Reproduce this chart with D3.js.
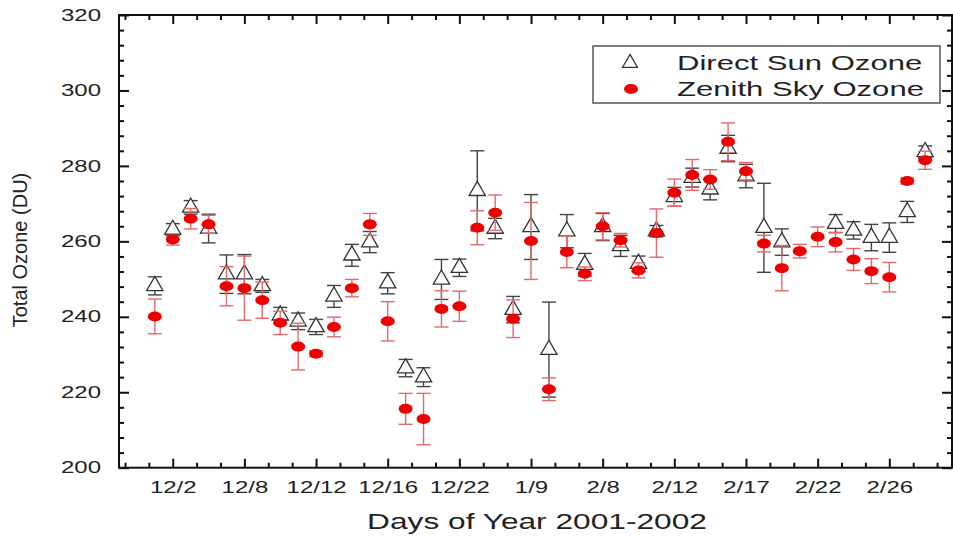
<!DOCTYPE html>
<html>
<head>
<meta charset="utf-8">
<title>Total Ozone</title>
<script src="https://cdn.jsdelivr.net/npm/d3@7"></script>
<style>
    body { margin: 0; background: #fff; }
    svg { display: block; font-family: "Liberation Sans", Arial, sans-serif; }
    .axis .domain { display: none; }
    .axis line { stroke: #111; stroke-width: 2; }
    .axis text { font-size: 16px; fill: #222; }
</style>
</head>
<body>
<svg id="chart" width="953" height="537"></svg>
<script>
//day labels on the x axis and the point index each one sits under
const tickLabels = ["12/2", "12/8", "12/12", "12/16", "12/22", "1/9", "2/8", "2/12", "2/17", "2/22", "2/26"];
const tickIndex = [1, 5, 9, 13, 17, 21, 25, 29, 33, 37, 41];
const yTicks = [200, 220, 240, 260, 280, 300, 320];

//direct sun ozone (DU) and error bar half width, null = no reading that day
const directSun = [248.2, 263.1, 269.0, 263.4, 251.3, 251.3, 248.2, 240.4, 238.8, 237.3, 245.4, 256.3, 259.8, 248.9, 226.4, 224.0, 249.9, 253.0, 273.4, 263.4, 241.9, 263.8, 231.3, 262.7, 253.8, 263.8, 258.8, 254.1, 262.7, 271.8, 276.9, 273.8, 284.6, 277.3, 263.6, 259.8, null, null, 264.7, 262.9, 261.0, 261.0, 267.8, 283.7];
const directErr = [2.4, 1.6, 1.8, 3.8, 5.1, 5.2, 1.7, 2.1, 2.2, 2.0, 2.9, 2.9, 2.8, 2.8, 2.3, 2.5, 5.3, 2.3, 10.6, 2.7, 3.5, 8.6, 12.6, 4.4, 3.0, 3.6, 2.8, 2.0, 1.5, 2.5, 2.5, 2.8, 3.5, 3.1, 11.8, 3.5, null, null, 2.4, 2.3, 3.5, 3.9, 2.8, 1.6];

//zenith sky ozone (DU) and error bar half width
const zenithSky = [240.1, 260.5, 266.0, 264.5, 248.1, 247.6, 244.4, 238.4, 232.1, 230.2, 237.3, 247.6, 264.5, 238.8, 215.6, 212.9, 242.1, 242.8, 263.6, 267.6, 239.5, 260.1, 220.8, 257.2, 251.4, 264.0, 260.3, 252.3, 262.2, 272.9, 277.6, 276.4, 286.4, 278.6, 259.4, 252.9, 257.4, 261.2, 259.8, 255.2, 252.1, 250.5, 276.0, 281.5];
const zenithErr = [4.6, 1.5, 2.7, 2.4, 5.2, 8.5, 4.8, 3.1, 6.2, 0.8, 2.6, 2.3, 2.9, 5.2, 4.1, 6.8, 4.8, 4.0, 4.5, 4.7, 5.0, 10.2, 3.0, 4.2, 1.8, 3.6, 1.8, 2.0, 6.4, 3.6, 4.1, 2.6, 5.0, 2.3, 2.2, 6.0, 1.8, 2.6, 2.6, 2.9, 3.3, 3.9, 0.8, 2.4];

(function(){

    var svg = d3.select("#chart");
    //plot frame
    var left = 119, right = 952, top = 15, bottom = 467.7;

    var x = d3.scaleLinear().domain([-2, 44.5]).range([left, right]);
    var y = d3.scaleLinear().domain([200, 320]).range([bottom, top]);

    //the picture is stretched sideways, so is the text
    var stretch = 1.5;

    function drawAxes(){
        //minor ticks: every 4/3 of a day on x, every 4 DU on y
        let xMinor = d3.range(-5/3, 44.5, 4/3).filter(function(d){
            return tickIndex.indexOf(Math.round(d)) < 0 || Math.abs(d - Math.round(d)) > 0.01;
        });
        let yMinor = d3.range(204, 320, 4).filter(function(d){ return d % 20 != 0; });

        let bot = svg.append("g").attr("class", "axis")
            .attr("transform", "translate(0," + bottom + ")")
            .call(d3.axisBottom(x).tickValues(tickIndex)
                .tickFormat(function(d, i){ return tickLabels[i]; })
                .tickSizeInner(-9).tickSizeOuter(0).tickPadding(14));
        bot.selectAll("text").attr("transform", "scale(" + stretch + ",1)");
        svg.append("g").attr("class", "axis")
            .attr("transform", "translate(0," + bottom + ")")
            .call(d3.axisBottom(x).tickValues(xMinor).tickFormat("").tickSizeInner(-5).tickSizeOuter(0));

        //top mirror
        svg.append("g").attr("class", "axis")
            .attr("transform", "translate(0," + top + ")")
            .call(d3.axisTop(x).tickValues(tickIndex).tickFormat("").tickSizeInner(-9).tickSizeOuter(0));
        svg.append("g").attr("class", "axis")
            .attr("transform", "translate(0," + top + ")")
            .call(d3.axisTop(x).tickValues(xMinor).tickFormat("").tickSizeInner(-5).tickSizeOuter(0));

        let lft = svg.append("g").attr("class", "axis")
            .attr("transform", "translate(" + left + ",0)")
            .call(d3.axisLeft(y).tickValues(yTicks).tickSizeInner(-10).tickSizeOuter(0).tickPadding(12));
        lft.selectAll("text").attr("transform", "scale(" + stretch + ",1)");
        svg.append("g").attr("class", "axis")
            .attr("transform", "translate(" + left + ",0)")
            .call(d3.axisLeft(y).tickValues(yMinor).tickFormat("").tickSizeInner(-5).tickSizeOuter(0));

        //right mirror
        svg.append("g").attr("class", "axis")
            .attr("transform", "translate(" + right + ",0)")
            .call(d3.axisRight(y).tickValues(yTicks).tickFormat("").tickSizeInner(-10).tickSizeOuter(0));
        svg.append("g").attr("class", "axis")
            .attr("transform", "translate(" + right + ",0)")
            .call(d3.axisRight(y).tickValues(yMinor).tickFormat("").tickSizeInner(-5).tickSizeOuter(0));

        //frame
        svg.append("rect")
            .attr("x", left).attr("y", top)
            .attr("width", right - left).attr("height", bottom - top)
            .attr("fill", "none").attr("stroke", "#111").attr("stroke-width", 2);

        //axis titles
        svg.append("text")
            .attr("transform", "translate(537,529) scale(1.44,1)")
            .attr("text-anchor", "middle")
            .style("font-size", "22px").style("fill", "#222")
            .text("Days of Year 2001-2002");
        svg.append("text")
            .attr("transform", "translate(27,250) rotate(-90)")
            .attr("text-anchor", "middle")
            .style("font-size", "20px").style("fill", "#222")
            .text("Total Ozone (DU)");
    }

    //error bars with caps for one series
    function errorBars(vals, errs, color){
        let pts = vals.map(function(v, i){ return {i: i, v: v, e: errs[i]}; })
            .filter(function(d){ return d.v != null; });
        let g = svg.append("g")
            .attr("stroke", color).attr("stroke-width", 1.4).attr("fill", "none");
        pts.forEach(function(d){
            let cx = x(d.i), hi = y(d.v + d.e), lo = y(d.v - d.e);
            g.append("line").attr("x1", cx).attr("x2", cx).attr("y1", hi).attr("y2", lo);
            g.append("line").attr("x1", cx - 7).attr("x2", cx + 7).attr("y1", hi).attr("y2", hi);
            g.append("line").attr("x1", cx - 7).attr("x2", cx + 7).attr("y1", lo).attr("y2", lo);
        });
        return pts;
    }

    function drawPoints(){
        let tri = d3.symbol().type(d3.symbolTriangle).size(115);

        let dPts = errorBars(directSun, directErr, "#444");
        svg.append("g").selectAll("path")
            .data(dPts)
            .join("path")
            .attr("d", tri)
            .attr("transform", function(d){ return "translate(" + x(d.i) + "," + y(d.v) + ")"; })
            .attr("fill", "#fff").attr("stroke", "#333").attr("stroke-width", 1.3);

        let zPts = errorBars(zenithSky, zenithErr, "#e46a6a");
        svg.append("g").selectAll("ellipse")
            .data(zPts)
            .join("ellipse")
            .attr("cx", function(d){ return x(d.i); })
            .attr("cy", function(d){ return y(d.v); })
            .attr("rx", 7).attr("ry", 5)
            .attr("fill", "#ee0000");
    }

    function drawLegend(){
        let lg = svg.append("g");
        lg.append("rect")
            .attr("x", 593).attr("y", 46).attr("width", 347).attr("height", 57)
            .attr("fill", "#fff").attr("stroke", "#555").attr("stroke-width", 1.5);
        lg.append("path")
            .attr("d", d3.symbol().type(d3.symbolTriangle).size(95))
            .attr("transform", "translate(630,63)")
            .attr("fill", "#fff").attr("stroke", "#333").attr("stroke-width", 1.3);
        lg.append("ellipse")
            .attr("cx", 631).attr("cy", 89).attr("rx", 7).attr("ry", 5)
            .attr("fill", "#ee0000");
        lg.append("text")
            .attr("transform", "translate(677,69.5) scale(1.48,1)")
            .style("font-size", "21px").style("fill", "#222")
            .text("Direct Sun Ozone");
        lg.append("text")
            .attr("transform", "translate(677,95.5) scale(1.48,1)")
            .style("font-size", "21px").style("fill", "#222")
            .text("Zenith Sky Ozone");
    }

    drawAxes();
    drawPoints();
    drawLegend();

})()
</script>
</body>
</html>
